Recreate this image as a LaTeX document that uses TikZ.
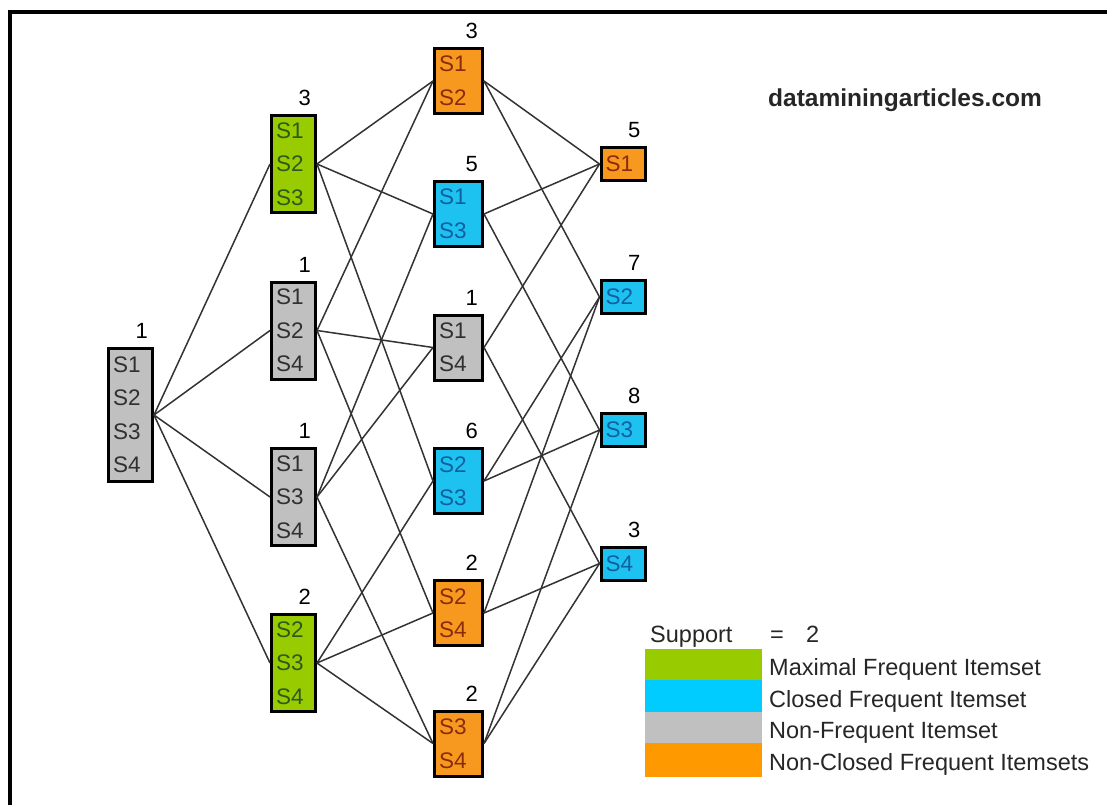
\documentclass[tikz,border=0pt]{standalone}
\usepackage{fontspec}
\setmainfont{Liberation Sans}
\definecolor{gfill}{HTML}{99CC00}
\definecolor{bfill}{HTML}{1EC2F0}
\definecolor{yfill}{HTML}{C0C0C0}
\definecolor{ofill}{HTML}{F7991F}
\definecolor{gtext}{HTML}{2C5A1C}
\definecolor{btext}{HTML}{1060A0}
\definecolor{ytext}{HTML}{303030}
\definecolor{otext}{HTML}{8A2C0C}
\definecolor{lgreen}{HTML}{99CC00}
\definecolor{lblue}{HTML}{00CCFF}
\definecolor{lgray}{HTML}{C0C0C0}
\definecolor{lorange}{HTML}{FF9900}
\begin{document}
\begin{tikzpicture}[x=1pt,y=-1pt,
  box/.style={draw=black, line width=3pt, inner xsep=4.5pt, inner ysep=0pt,
    text width=35pt, align=left, font=\fontsize{22.5}{33.5}\selectfont},
  wide/.style={text width=39pt},
  gbox/.style={box, fill=gfill, text=gtext},
  bbox/.style={box, fill=bfill, text=btext},
  ybox/.style={box, fill=yfill, text=ytext},
  obox/.style={box, fill=ofill, text=otext},
  h4/.style={minimum height=133pt},
  h3/.style={minimum height=97pt},
  h2/.style={minimum height=65pt},
  h1/.style={minimum height=33pt},
  num/.style={anchor=base east, inner sep=0pt, font=\fontsize{22}{26}\selectfont},
  link/.style={draw=black!80, line width=1.5pt},
  legtext/.style={anchor=base west, inner sep=0pt, font=\fontsize{23.5}{28}\selectfont, text=black!85}
]
\useasboundingbox (0,0) rectangle (1107,805);
% frame
\draw[line width=4pt] (9.5,805) -- (9.5,12.5) -- (1107,12.5);

% level 0
\node[ybox,h4] (a) at (130.5,415) {S1\\S2\\S3\\S4};
% level 1
\node[gbox,h3] (b1) at (293.5,164) {S1\\S2\\S3};
\node[ybox,h3] (b2) at (293.5,330.5) {S1\\S2\\S4};
\node[ybox,h3] (b3) at (293.5,497) {S1\\S3\\S4};
\node[gbox,h3] (b4) at (293.5,663) {S2\\S3\\S4};
% level 2
\node[obox,wide,h2] (c1) at (458.5,81) {S1\\S2};
\node[bbox,wide,h2] (c2) at (458.5,214) {S1\\S3};
\node[ybox,wide,h2] (c3) at (458.5,347.5) {S1\\S4};
\node[bbox,wide,h2] (c4) at (458.5,481) {S2\\S3};
\node[obox,wide,h2] (c5) at (458.5,613) {S2\\S4};
\node[obox,wide,h2] (c6) at (458.5,743.5) {S3\\S4};
% level 3
\node[obox,h1] (d1) at (623,164) {S1};
\node[bbox,h1] (d2) at (623,297) {S2};
\node[bbox,h1] (d3) at (623,430) {S3};
\node[bbox,h1] (d4) at (623,563.5) {S4};

% support numbers
\node[num] (na) at ([xshift=-6pt,yshift=8.5pt]a.north east) {1};
\node[num] (nb1) at ([xshift=-6pt,yshift=8.5pt]b1.north east) {3};
\node[num] (nb2) at ([xshift=-6pt,yshift=8.5pt]b2.north east) {1};
\node[num] (nb3) at ([xshift=-6pt,yshift=8.5pt]b3.north east) {1};
\node[num] (nb4) at ([xshift=-6pt,yshift=8.5pt]b4.north east) {2};
\node[num] (nc1) at ([xshift=-6pt,yshift=8.5pt]c1.north east) {3};
\node[num] (nc2) at ([xshift=-6pt,yshift=8.5pt]c2.north east) {5};
\node[num] (nc3) at ([xshift=-6pt,yshift=8.5pt]c3.north east) {1};
\node[num] (nc4) at ([xshift=-6pt,yshift=8.5pt]c4.north east) {6};
\node[num] (nc5) at ([xshift=-6pt,yshift=8.5pt]c5.north east) {2};
\node[num] (nc6) at ([xshift=-6pt,yshift=8.5pt]c6.north east) {2};
\node[num] (nd1) at ([xshift=-6pt,yshift=8.5pt]d1.north east) {5};
\node[num] (nd2) at ([xshift=-6pt,yshift=8.5pt]d2.north east) {7};
\node[num] (nd3) at ([xshift=-6pt,yshift=8.5pt]d3.north east) {8};
\node[num] (nd4) at ([xshift=-6pt,yshift=8.5pt]d4.north east) {3};

% edges level 0 -> 1
\foreach \t in {b1,b2,b3,b4} \draw[link] (a.east) -- (\t.west);
% edges level 1 -> 2
\foreach \s/\t in {b1/c1,b1/c2,b1/c4,b2/c1,b2/c3,b2/c5,b3/c2,b3/c3,b3/c6,b4/c4,b4/c5,b4/c6}
  \draw[link] (\s.east) -- (\t.west);
% edges level 2 -> 3
\foreach \s/\t in {c1/d1,c1/d2,c2/d1,c2/d3,c3/d1,c3/d4,c4/d2,c4/d3,c5/d2,c5/d4,c6/d3,c6/d4}
  \draw[link] (\s.east) -- (\t.west);

% site name
\node[anchor=base west, inner sep=0pt, font=\fontsize{24.5}{28}\selectfont\bfseries, text=black!85] (site) at (768,107) {dataminingarticles.com};

% legend
\node[legtext] (sup) at (650,642) {Support};
\node[legtext] (eq) at (770,642) {=};
\node[legtext] (two) at (806,642) {2};
\fill[lgreen] (645,649) rectangle (762,680);
\fill[lblue] (645,680) rectangle (762,712);
\fill[lgray] (645,712) rectangle (762,743);
\fill[lorange] (645,743) rectangle (762,777);
\node[legtext] (l1) at (769,675) {Maximal Frequent Itemset};
\node[legtext] (l2) at (769,707) {Closed Frequent Itemset};
\node[legtext] (l3) at (769,738) {Non-Frequent Itemset};
\node[legtext] (l4) at (769,770) {Non-Closed Frequent Itemsets};
\end{tikzpicture}
\end{document}
